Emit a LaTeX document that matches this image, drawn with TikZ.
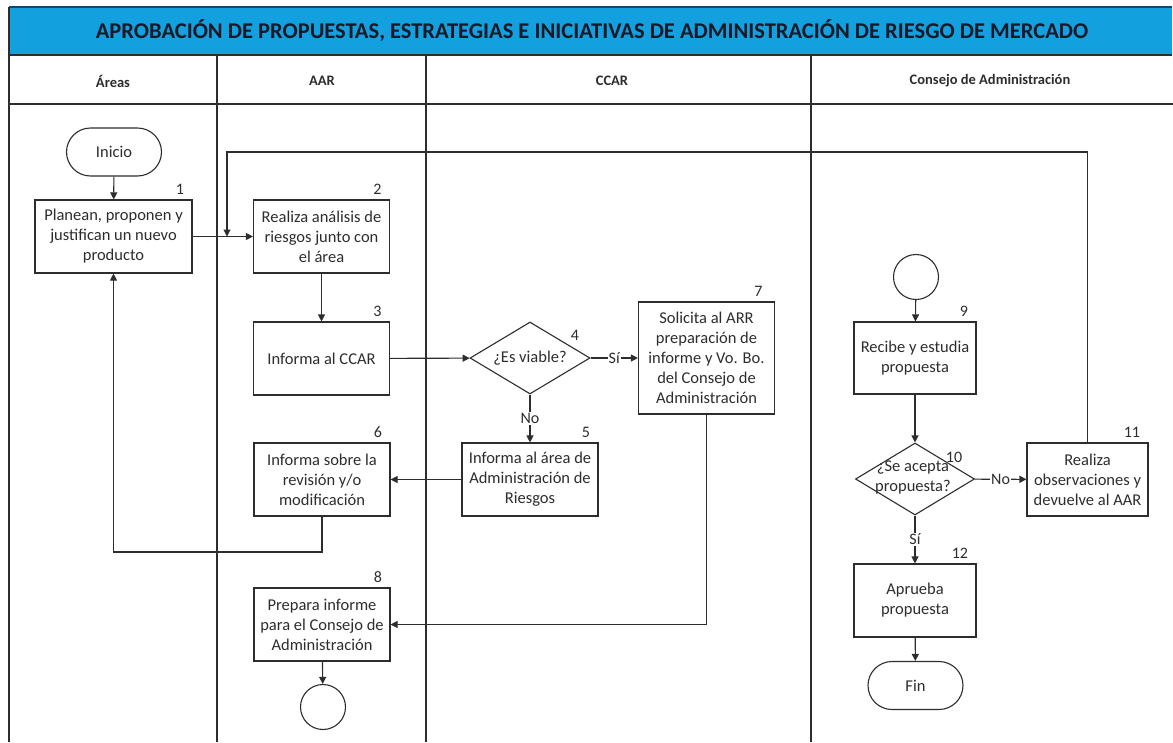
\documentclass[tikz,border=0pt]{standalone}
\usepackage{fontspec}
\setmainfont{Carlito}
\usetikzlibrary{arrows.meta,shapes.geometric,positioning}
\definecolor{titleblue}{RGB}{18,160,222}
\definecolor{ink}{RGB}{45,45,45}

\begin{document}
\begin{tikzpicture}[x=1pt,y=-1pt,
        line width=1.1pt,
        proc/.style={draw=ink,fill=white,text=ink,align=center,minimum width=136pt,minimum height=73pt,inner sep=1pt,font=\fontsize{16.5}{20}\selectfont},
        term/.style={draw=ink,fill=white,text=ink,rounded corners=24pt,minimum width=95pt,minimum height=48pt,font=\fontsize{16.5}{20}\selectfont},
        ring/.style={draw=ink,fill=white,circle,minimum size=45pt,inner sep=0pt},
        decision/.style={draw=ink,fill=white,diamond,minimum width=120pt,minimum height=72pt,inner sep=0pt},
        num/.style={anchor=south east,inner sep=4pt,xshift=-4pt,text=ink,font=\fontsize{16}{18}\selectfont},
        tag/.style={fill=white,inner sep=1pt,text=ink,font=\fontsize{16}{18}\selectfont},
        lane/.style={text=ink,font=\fontsize{14.5}{16}\selectfont\bfseries},
        arr/.style={draw=ink,-{Triangle[length=7pt,width=7pt]}}]
        \useasboundingbox (0,0) rectangle (1173,742);

        % marco y carriles
        \fill[titleblue] (9,7) rectangle (1172,55);
        \draw[draw={rgb,255:red,20;green,70;blue,110}] (9,7) -- (1172,7);
        \node[font=\fontsize{22.5}{26}\selectfont\bfseries,text={rgb,255:red,25;green,25;blue,40}] (titulo) at (592,31) {APROBACIÓN DE PROPUESTAS, ESTRATEGIAS E INICIATIVAS DE ADMINISTRACIÓN DE RIESGO DE MERCADO};
        \draw[ink] (9,55) -- (1172,55);
        \draw[ink] (9,104) -- (1173,104);
        \draw[ink] (9,7) -- (9,742);
        \foreach \x in {217,426,811}{
            \draw[ink] (\x,55) -- (\x,742);
        }
        \foreach \x/\t in {113/Áreas,322/AAR,612/CCAR,990/Consejo de Administración}{
            \node[lane] (lane\x) at (\x,81) {\t};
        }

        % nodos
        \node[term] (ini) at (114,152) {Inicio};
        \node[proc,minimum width=157pt,label={[num]north east:1}] (b1) at (113.5,236.5) {Planean, proponen y\\justifican un nuevo\\producto};
        \node[proc,label={[num]north east:2}] (b2) at (321.5,236.5) {Realiza análisis de\\riesgos junto con\\el área};
        \node[proc,label={[num]north east:3}] (b3) at (321.5,358.5) {Informa al CCAR};
        \node[decision] (d4) at (530,358) {};
        \node[text=ink,font=\fontsize{16.5}{20}\selectfont] (d4t) at (d4) {¿Es viable?};
        \node[num,anchor=center,inner sep=0pt,xshift=0pt] (n4) at (579,335) {4};
        \node[proc,minimum height=112pt,label={[num,xshift=-4pt]north east:7}] (b7) at (706.5,358) {Solicita al ARR\\preparación de\\informe y Vo. Bo.\\del Consejo de\\Administración};
        \node[proc,label={[num]north east:5}] (b5) at (530,479.5) {Informa al área de\\Administración de\\Riesgos};
        \node[proc,label={[num]north east:6}] (b6) at (322,479.5) {Informa sobre la\\revisión y/o\\modificación};
        \node[proc,label={[num]north east:8}] (b8) at (322,624.5) {Prepara informe\\para el Consejo de\\Administración};
        \node[ring] (c8) at (323,707) {};

        \node[ring] (c9) at (916,277) {};
        \node[proc,minimum width=122pt,minimum height=72pt,label={[num]north east:9}] (b9) at (915,358) {Recibe y estudia\\propuesta};
        \node[decision,minimum width=119pt] (d10) at (915,479) {};
        \node[text=ink,align=center,font=\fontsize{16.5}{20}\selectfont] (d10t) at (913,477) {¿Se acepta\\propuesta?};
        \node[num,anchor=center,inner sep=0pt,xshift=0pt] (n10) at (958,457) {10};
        \node[proc,minimum width=121pt,label={[num]north east:11}] (b11) at (1087.5,479.5) {Realiza\\observaciones y\\devuelve al AAR};
        \node[proc,minimum width=122pt,label={[num]north east:12}] (b12) at (915,600.5) {Aprueba\\propuesta};
        \node[term] (fin) at (915.5,685.5) {Fin};

        \coordinate (k1) at (113.5,552);
        \coordinate (k2) at (227,152);
        \coordinate (k3) at (227,236.5);

        % conectores
        \draw[arr] (ini) -- (b1);
        \draw[arr] (b1) -- (b2);
        \draw[arr] (b2) -- (b3);
        \draw[arr] (b3) -- (d4);
        \draw[arr] (d4) -- node[tag]{Sí} (b7);
        \draw[arr] (d4) -- node[tag]{No} (b5);
        \draw[arr] (b5) -- (b6);
        \draw[arr] (b6.south) |- (k1) -- (b1.south);
        \draw[arr] (b7.south) |- (b8.east);
        \draw[arr] (b8) -- (c8);
        \draw[arr] (c9) -- (b9);
        \draw[arr] (b9) -- (d10);
        \draw[arr] (d10) -- node[tag]{No} (b11);
        \draw[arr] (d10) -- node[tag]{Sí} (b12);
        \draw[arr] (b12) -- (fin);
        \draw[arr] (b11.north) |- (k2) -- (k3);
    \end{tikzpicture}
\end{document}
